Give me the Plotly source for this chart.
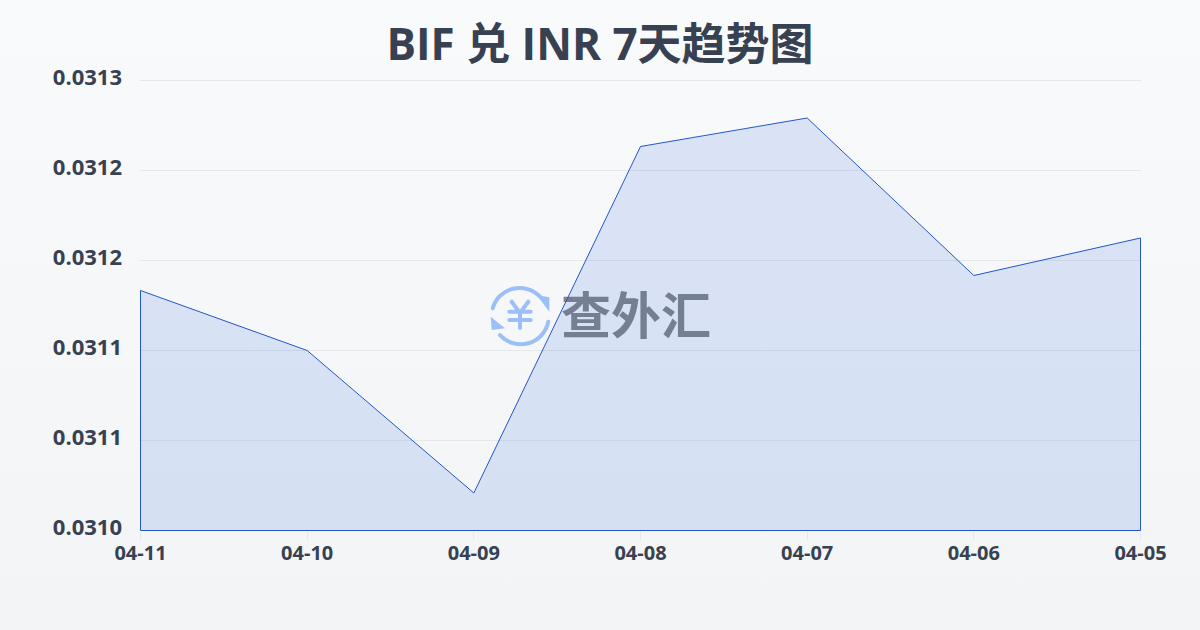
import base64
import plotly.graph_objects as go

dates = ["04-11", "04-10", "04-09", "04-08", "04-07", "04-06", "04-05"]
rates = [0.031160, 0.031120, 0.031025, 0.031256, 0.031275, 0.031170, 0.031195]
y_ticks = [0.0310, 0.03106, 0.03112, 0.03118, 0.03124, 0.0313]
y_labels = ["0.0310", "0.0311", "0.0311", "0.0312", "0.0312", "0.0313"]
baseline = 0.0310
top = 0.0313
title = "BIF 兑 INR 7天趋势图"
watermark = "查外汇"

INK = "#374151"
LINE = "#2357c9"
GRID = "#e5e7eb"
FONT = "'Open Sans', 'Noto Sans CJK SC', sans-serif"
L, T, W, H = 140, 80, 1001, 451
y_pad = 0.5 * (top - baseline) / 450
x_pad = 0.5 * 6 / 1000

bg_svg = (
    '<svg xmlns="http://www.w3.org/2000/svg" width="1200" height="630" preserveAspectRatio="none">'
    '<defs><linearGradient id="g" x1="0" y1="0" x2="0" y2="1">'
    '<stop offset="0" stop-color="#f9fafc"/><stop offset="1" stop-color="#f3f4f6"/>'
    '</linearGradient></defs><rect width="1200" height="630" fill="url(#g)"/></svg>'
)
icon_svg = (
    '<svg xmlns="http://www.w3.org/2000/svg" viewBox="0 0 64 64" width="64" height="64">'
    '<g fill="none" stroke="#9dbff7" stroke-width="4" stroke-linecap="round">'
    '<path d="M4.7 24.3 A28 28 0 0 1 52 12.7"/>'
    '<path d="M60.3 37.7 A28 28 0 0 1 12 51"/>'
    '<path d="M23.7 17.7 L32 29 L40.3 17.7 M21.3 27.7 H42.7 M21.3 36 H42.7 M32 29 V44"/>'
    '</g><g fill="#9dbff7"><path d="M48.7 11 L61.3 27.7 L61.3 13.3 Z"/><path d="M2.7 32.7 L17 44.3 L3.7 46 Z"/></g></svg>'
)


def uri(svg):
    return "data:image/svg+xml;base64," + base64.b64encode(svg.encode()).decode()


fig = go.Figure()
fig.add_trace(
    go.Scatter(
        x=dates + [dates[-1], dates[0], dates[0]],
        y=rates + [baseline, baseline, rates[0]],
        mode="lines",
        fill="toself",
        fillcolor="rgba(37,99,220,0.14)",
        line=dict(color=LINE, width=1),
        hoverinfo="skip",
        showlegend=False,
    )
)
fig.add_hline(y=top, line=dict(color=GRID, width=1), layer="below")
fig.update_layout(
    width=1200,
    height=630,
    margin=dict(l=L, r=1200 - L - W, t=T, b=630 - T - H, pad=0),
    paper_bgcolor="rgba(0,0,0,0)",
    plot_bgcolor="rgba(0,0,0,0)",
    font=dict(family=FONT, color=INK),
    title=dict(
        text=f"<b>{title}</b>",
        x=0.5,
        xanchor="center",
        xref="container",
        y=1 - 45 / 630,
        yanchor="middle",
        yref="container",
        font=dict(size=44, color=INK, family=FONT),
    ),
    xaxis=dict(
        type="category",
        categoryorder="array",
        categoryarray=dates,
        range=[-x_pad, 6 + x_pad],
        showgrid=False,
        zeroline=False,
        showline=False,
        ticks="outside",
        ticklen=8,
        tickwidth=1,
        tickcolor=GRID,
        ticklabelstandoff=-4,
        tickfont=dict(size=20, color=INK, family="'Open Sans', sans-serif", weight="bold"),
    ),
    yaxis=dict(
        range=[baseline - y_pad, top + y_pad],
        tickmode="array",
        tickvals=y_ticks,
        ticktext=y_labels,
        showgrid=True,
        gridcolor=GRID,
        gridwidth=1,
        zeroline=False,
        showline=False,
        ticks="",
        ticklabelstandoff=17,
        ticklabelshift=-3,
        tickfont=dict(size=22, color=INK, family="'Open Sans', sans-serif", weight="bold"),
    ),
    images=[
        dict(source=uri(bg_svg), xref="paper", yref="paper", xanchor="left", yanchor="top",
             x=-L / W, y=1 + T / H, sizex=1200 / W, sizey=630 / H, sizing="stretch", layer="below"),
        dict(source=uri(icon_svg), xref="paper", yref="paper", xanchor="left", yanchor="top",
             x=(488 - L) / W, y=1 - (284 - T) / H, sizex=64 / W, sizey=64 / H, sizing="contain", layer="above"),
    ],
    annotations=[
        dict(text=f"<b>{watermark}</b>", xref="paper", yref="paper", x=(636 - L) / W, y=1 - (312 - T) / H,
             xanchor="center", yanchor="middle", showarrow=False,
             font=dict(size=50, color="rgba(75,85,105,0.7)", family="'Noto Sans CJK SC', sans-serif")),
    ],
)
fig.write_html(
    "out.html",
    config={"displayModeBar": False},
    post_script="document.body.style.margin='0';document.documentElement.style.background='#f6f7f9';",
)
